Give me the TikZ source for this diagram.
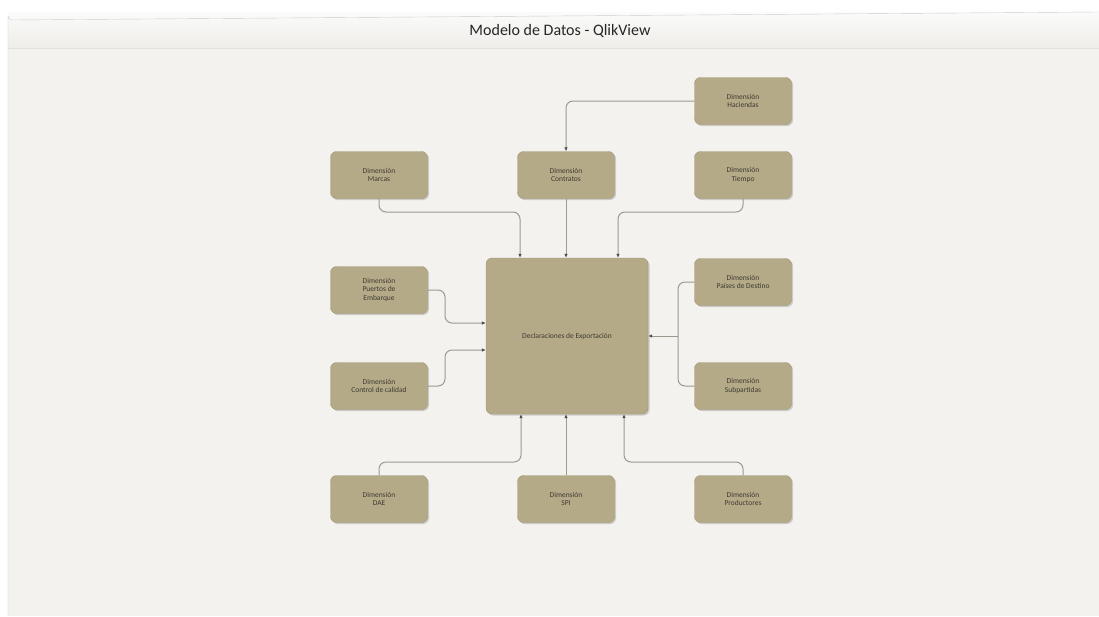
\documentclass[tikz,border=0pt]{standalone}
\usepackage{fontspec}
\setmainfont{Carlito}
\usetikzlibrary{arrows.meta,shadows}
\definecolor{panel}{HTML}{F3F2EE}
\definecolor{hdrtop}{HTML}{FBFBFA}
\definecolor{hdrbot}{HTML}{EEEDE9}
\definecolor{boxfill}{HTML}{B5AA88}
\definecolor{boxline}{HTML}{A09574}
\definecolor{wire}{HTML}{9C998F}
\definecolor{txt}{HTML}{3E3A30}
\tikzset{
  dim/.style={draw=boxline, fill=boxfill, rounded corners=6pt, minimum width=97pt, minimum height=47pt,
    align=center, font=\fontsize{7.5}{8.5}\selectfont, text=txt, inner sep=2pt,
    drop shadow={shadow xshift=1.5pt, shadow yshift=-1.5pt, opacity=0.35, fill=gray}},
  fact/.style={dim, minimum width=162pt, minimum height=156pt},
  wire/.style={draw=wire, line width=1pt, rounded corners=7pt, -{Latex[length=4pt,width=3.5pt,color=black!70]}},
  wireplain/.style={draw=wire, line width=1pt, rounded corners=7pt}
}
\begin{document}
\begin{tikzpicture}[x=1pt,y=-1pt]
\useasboundingbox (0,0) rectangle (1099,616);
\fill[white] (0,0) rectangle (1099,616);
% window panel
\fill[panel] (8,12) rectangle (1099,616);
\shade[top color=hdrtop, bottom color=hdrbot] (8,12) rectangle (1099,48);
\draw[black!20] (8,616) -- (8,16) arc[start angle=180,end angle=90,radius=4] -- (1099,12);
\draw[black!12] (8,48) -- (1099,48);
\node[font=\fontsize{16}{19}\selectfont, text=black!85] (title) at (560,31) {Modelo de Datos - QlikView};

% nodes
\node[fact] (dec) at (567,336) {Declaraciones de Exportación};
\node[dim] (hac) at (743,101) {Dimensión\\Haciendas};
\node[dim] (mar) at (379,175) {Dimensión\\Marcas};
\node[dim] (con) at (566,175) {Dimensión\\Contratos};
\node[dim] (tie) at (743,175) {Dimensión\\Tiempo};
\node[dim] (pue) at (379,290) {Dimensión\\Puertos de\\Embarque};
\node[dim] (cal) at (379,386) {Dimensión\\Control de calidad};
\node[dim] (pai) at (743,282) {Dimensión\\Países de Destino};
\node[dim] (sub) at (743,386) {Dimensión\\Subpartidas};
\node[dim] (dae) at (379,499) {Dimensión\\DAE};
\node[dim] (spi) at (566,499) {Dimensión\\SPI};
\node[dim] (pro) at (743,499) {Dimensión\\Productores};

% connectors
\coordinate (jr) at (678,336);
\draw[wire] (hac.west) -| (con.north);
\draw[wire] (mar.south) |- (520,212) -- (dec.north -| 520,0);
\draw[wire] (con.south) -- (dec.north -| con.south);
\draw[wire] (tie.south) |- (618,212) -- (dec.north -| 618,0);
\draw[wire] (pue.east) -| (445,323) -- (dec.west |- 0,323);
\draw[wire] (cal.east) -| (445,350) -- (dec.west |- 0,350);
\draw[wireplain] (pai.west) -| (jr);
\draw[wireplain] (sub.west) -| (jr);
\draw[wire] (jr) -- (dec.east);
\draw[wire] (dae.north) |- (521,462) -- (dec.south -| 521,0);
\draw[wire] (spi.north) -- (dec.south -| spi.north);
\draw[wire] (pro.north) |- (624,462) -- (dec.south -| 624,0);
\end{tikzpicture}
\end{document}
